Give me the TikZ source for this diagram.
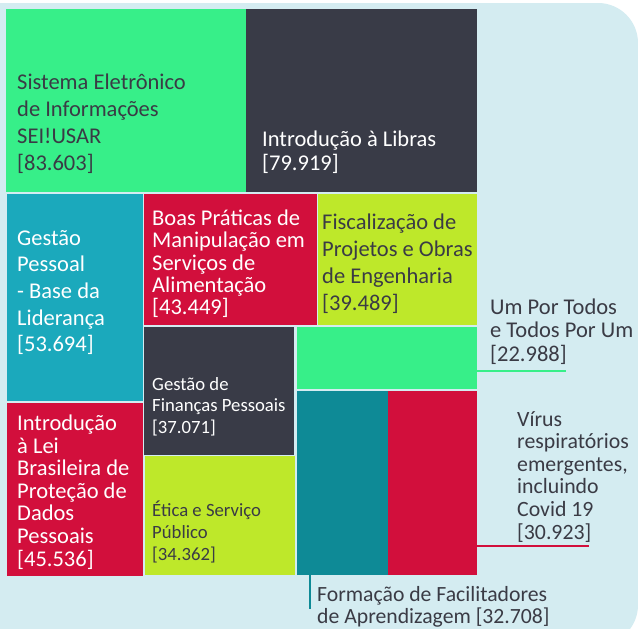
\documentclass[tikz,border=0pt]{standalone}
\usepackage{fontspec}
\setmainfont{Carlito}
\definecolor{bgblue}{HTML}{D4ECF1}
\definecolor{semgreen}{HTML}{37EF89}
\definecolor{slate}{HTML}{393B47}
\definecolor{tealblue}{HTML}{1BA9BC}
\definecolor{crimson}{HTML}{D20F3C}
\definecolor{lime}{HTML}{BEE82A}
\definecolor{darkteal}{HTML}{0E8A96}
\definecolor{txtgray}{HTML}{3A3B45}
\tikzset{
    biglabel/.style={anchor=base west,align=left,inner sep=0pt,font=\fontsize{22.5}{#1}\selectfont},
    smalllabel/.style={anchor=base west,align=left,inner sep=0pt,font=\fontsize{18.7}{#1}\selectfont},
    leader/.style={line width=2.5pt}
}
\begin{document}
\begin{tikzpicture}[x=1pt,y=-1pt]
      \clip (0,0) rectangle (638,629);
      \fill[white] (0,0) rectangle (638,629);
      \fill[bgblue,rounded corners=40pt] (-50,3) rectangle (638,645);
      \fill[semgreen] (6,9) rectangle (245.5,192);
      \fill[slate] (245.5,9) rectangle (477,192);
      \fill[tealblue] (7,194) rectangle (143,401);
      \fill[crimson] (7,403) rectangle (143,576);
      \fill[crimson] (144,194) rectangle (317,325);
      \fill[lime] (318,194) rectangle (477,325);
      \fill[slate] (144,327) rectangle (294,455);
      \fill[lime] (145,456) rectangle (295,575);
      \fill[semgreen] (297,327) rectangle (477,389);
      \fill[darkteal] (297,391) rectangle (388,575);
      \fill[crimson] (388,391) rectangle (477,575);
      \node[biglabel=26.7,text=txtgray] (sei) at (17,170) {Sistema Eletrônico\\de Informações\\SEI!USAR\\{[83.603]}};
      \node[biglabel=23.5,text=white] (libras) at (262,170) {Introdução à Libras\\{[79.919]}};
      \node[biglabel=26.7,text=white] (gestao) at (17,351.8) {Gestão\\Pessoal\\- Base da\\Liderança\\{[53.694]}};
      \node[biglabel=22.3,text=white] (boas) at (152,314.7) {Boas Práticas de\\Manipulação em\\Serviços de\\Alimentação\\{[43.449]}};
      \node[biglabel=27,text=txtgray] (fiscal) at (322,310) {Fiscalização de\\Projetos e Obras\\de Engenharia\\{[39.489]}};
      \node[smalllabel=21.7,text=white] (financas) at (152,433.4) {Gestão de\\Finanças Pessoais\\{[37.071]}};
      \node[smalllabel=21.7,text=txtgray] (etica) at (152,560) {Ética e Serviço\\Público\\{[34.362]}};
      \node[biglabel=22.6,text=white] (lei) at (17,566) {Introdução\\à Lei\\Brasileira de\\Proteção de\\Dados\\Pessoais\\{[45.536]}};
      \node[biglabel=23.3,text=txtgray] (umpor) at (490,361) {Um Por Todos\\e Todos Por Um\\{[22.988]}};
      \node[biglabel,font=\fontsize{21.8}{22.6}\selectfont,text=txtgray] (virus) at (517,539) {Vírus\\respiratórios\\emergentes,\\incluindo\\Covid 19\\{[30.923]}};
      \node[biglabel,font=\fontsize{21.7}{21.7}\selectfont,text=txtgray] (formacao) at (317,623) {Formação de Facilitadores\\de Aprendizagem {[32.708]}};
      \coordinate (umpor tile) at (477,371);
      \coordinate (umpor tip) at (566,371);
      \coordinate (virus tile) at (477,546);
      \coordinate (virus tip) at (589,546);
      \coordinate (formacao tile) at (310,575);
      \coordinate (formacao tip) at (310,609);
      \draw[leader,semgreen] (umpor tile) -- (umpor tip);
      \draw[leader,crimson] (virus tile) -- (virus tip);
      \draw[leader,darkteal] (formacao tile) -- (formacao tip);
\end{tikzpicture}
\end{document}
